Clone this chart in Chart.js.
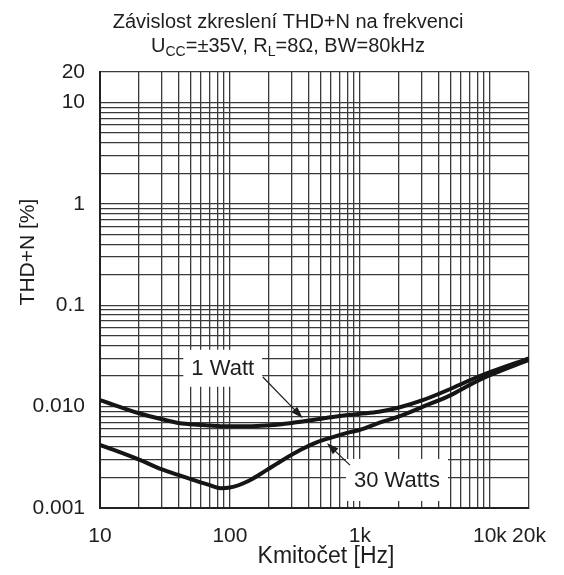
<!DOCTYPE html>
<html lang="cs">
<head>
    <meta charset="UTF-8">
    <title>Závislost zkreslení THD+N na frekvenci</title>
    <script src="https://cdn.jsdelivr.net/npm/chart.js"></script>
    <style>
        html, body { margin: 0; padding: 0; background: #fff; }
        #wrap { position: relative; width: 564px; height: 575px; }
    </style>
</head>
<body>
    <div id="wrap"><canvas id="thdChart" width="564" height="575"></canvas></div>
    <script>
        // measured THD+N (%) vs. frequency (Hz)
        const freqHz = [10, 20, 30, 40, 50, 70, 85, 100, 140, 190, 250, 350, 470, 620, 840, 1000, 1400, 2000, 3000, 5000, 7000, 10000, 20000];
        const thd1W  = [0.0116, 0.0086, 0.0075, 0.0069, 0.0067, 0.0065, 0.0064, 0.0064, 0.0064, 0.0065, 0.0067, 0.0071, 0.0075, 0.0079, 0.0083, 0.0085, 0.0089, 0.0098, 0.0115, 0.0150, 0.0182, 0.0219, 0.030];
        const thd30W = [0.0042, 0.0030, 0.0024, 0.00212, 0.00193, 0.00168, 0.00157, 0.00159, 0.00186, 0.00235, 0.00293, 0.00375, 0.00447, 0.0050, 0.0056, 0.0059, 0.0069, 0.0080, 0.0099, 0.0130, 0.0164, 0.0204, 0.029];

        const seriesNames = ['1 Watt', '30 Watts'];

        const xTickValues = [10, 100, 1000, 10000, 20000];
        const xTickText   = ['10', '100', '1k', '10k', '20k'];
        const yTickValues = [0.001, 0.01, 0.1, 1, 10, 20];
        const yTickText   = ['0.001', '0.010', '0.1', '1', '10', '20'];

        const FONT = '"Liberation Sans", Arial, sans-serif';
        const INK = '#1e1e1e';

        // 1..9 x 10^n grid inside [min, max], plus max itself
        function logGrid(min, max) {
            const out = [];
            for (let e = Math.floor(Math.log10(min)); e <= Math.ceil(Math.log10(max)); e++) {
                for (let k = 1; k <= 9; k++) {
                    const v = parseFloat((k * Math.pow(10, e)).toPrecision(6));
                    if (v >= min && v <= max) out.push(v);
                }
            }
            if (out[out.length - 1] !== max) out.push(max);
            return out;
        }

        function labelFor(values, texts, v) {
            const i = values.findIndex(t => Math.abs(v / t - 1) < 1e-6);
            return i >= 0 ? texts[i] : '';
        }

        // boxed labels with leader arrows, placed in data coordinates (Hz, %)
        const callouts = [
            { text: seriesNames[0], at: [88, 0.0239], from: [179, 0.0196], to: [363, 0.0077], h: 37 },
            { text: seriesNames[1], at: [1928, 0.00189], from: [838, 0.00265], to: [557, 0.00437], h: 42 }
        ];

        const decorations = {
            id: 'decorations',
            afterDatasetsDraw(chart) {
                const { ctx, scales: { x, y } } = chart;
                ctx.save();
                ctx.font = '22px ' + FONT;
                ctx.textAlign = 'center';
                ctx.textBaseline = 'middle';
                callouts.forEach(c => {
                    const cx = x.getPixelForValue(c.at[0]);
                    const cy = y.getPixelForValue(c.at[1]);
                    const w = ctx.measureText(c.text).width + 16;
                    ctx.fillStyle = '#fff';
                    ctx.fillRect(cx - w / 2, cy - c.h / 2, w, c.h);
                    ctx.fillStyle = INK;
                    ctx.fillText(c.text, cx, cy + 1);

                    const x0 = x.getPixelForValue(c.from[0]), y0 = y.getPixelForValue(c.from[1]);
                    const x1 = x.getPixelForValue(c.to[0]),   y1 = y.getPixelForValue(c.to[1]);
                    const ang = Math.atan2(y1 - y0, x1 - x0);
                    const ca = Math.cos(ang), sa = Math.sin(ang);
                    ctx.strokeStyle = INK;
                    ctx.lineWidth = 1.2;
                    ctx.beginPath();
                    ctx.moveTo(x0, y0);
                    ctx.lineTo(x1 - 8 * ca, y1 - 8 * sa);
                    ctx.stroke();
                    ctx.beginPath();
                    ctx.moveTo(x1, y1);
                    ctx.lineTo(x1 - 12 * ca + 4 * sa, y1 - 12 * sa - 4 * ca);
                    ctx.lineTo(x1 - 12 * ca - 4 * sa, y1 - 12 * sa + 4 * ca);
                    ctx.closePath();
                    ctx.fillStyle = INK;
                    ctx.fill();
                });
                ctx.restore();
            },
            afterDraw(chart) {
                const { ctx } = chart;
                ctx.save();
                ctx.fillStyle = INK;
                ctx.textBaseline = 'alphabetic';

                // title, first line
                ctx.font = '20px ' + FONT;
                ctx.textAlign = 'center';
                ctx.fillText('Závislost zkreslení THD+N na frekvenci', 288, 28);

                // second line with subscripts
                const parts = [
                    ['U', false], ['CC', true], ['=±35V, R', false], ['L', true], ['=8Ω, BW=80kHz', false]
                ];
                const fontFor = sub => (sub ? '14px ' : '20px ') + FONT;
                let total = 0;
                parts.forEach(([t, sub]) => { ctx.font = fontFor(sub); total += ctx.measureText(t).width; });
                let px = 288 - total / 2;
                ctx.textAlign = 'left';
                parts.forEach(([t, sub]) => {
                    ctx.font = fontFor(sub);
                    ctx.fillText(t, px, sub ? 56 : 52);
                    px += ctx.measureText(t).width;
                });

                // axis titles
                ctx.textAlign = 'center';
                ctx.textBaseline = 'middle';
                ctx.font = '23px ' + FONT;
                ctx.fillText('Kmitočet [Hz]', 326, 557);
                ctx.font = '21px ' + FONT;
                ctx.translate(28, 252);
                ctx.rotate(-Math.PI / 2);
                ctx.fillText('THD+N [%]', 0, 0);
                ctx.restore();
            }
        };

        const lineStyle = {
            borderColor: '#151515',
            borderWidth: 4,
            pointRadius: 0,
            fill: false,
            cubicInterpolationMode: 'monotone'
        };

        new Chart(document.getElementById('thdChart'), {
            type: 'line',
            data: {
                datasets: [
                    { label: seriesNames[0], data: freqHz.map((f, i) => ({ x: f, y: thd1W[i] })), ...lineStyle },
                    { label: seriesNames[1], data: freqHz.map((f, i) => ({ x: f, y: thd30W[i] })), ...lineStyle }
                ]
            },
            options: {
                responsive: false,
                animation: false,
                layout: { padding: { top: 72, right: 35, left: 0, bottom: 0 } },
                plugins: {
                    legend: { display: false },
                    tooltip: { enabled: false }
                },
                scales: {
                    x: {
                        type: 'logarithmic',
                        min: 10,
                        max: 20000,
                        afterBuildTicks: s => { s.ticks = logGrid(10, 20000).map(v => ({ value: v })); },
                        afterFit: s => { s.height = 67; },
                        ticks: {
                            autoSkip: false,
                            maxRotation: 0,
                            padding: 16,
                            color: INK,
                            font: { family: FONT, size: 21 },
                            callback: v => labelFor(xTickValues, xTickText, v)
                        },
                        grid: { color: '#3a3a3a', lineWidth: 1.3, drawTicks: false },
                        border: { color: '#222', width: 2 }
                    },
                    y: {
                        type: 'logarithmic',
                        min: 0.001,
                        max: 20,
                        afterBuildTicks: s => { s.ticks = logGrid(0.001, 20).map(v => ({ value: v })); },
                        afterFit: s => { s.width = 100; },
                        ticks: {
                            autoSkip: false,
                            padding: 15,
                            color: INK,
                            font: { family: FONT, size: 21 },
                            callback: v => labelFor(yTickValues, yTickText, v)
                        },
                        grid: { color: '#3a3a3a', lineWidth: 1.3, drawTicks: false },
                        border: { color: '#222', width: 2 }
                    }
                }
            },
            plugins: [decorations]
        });
    </script>
</body>
</html>
